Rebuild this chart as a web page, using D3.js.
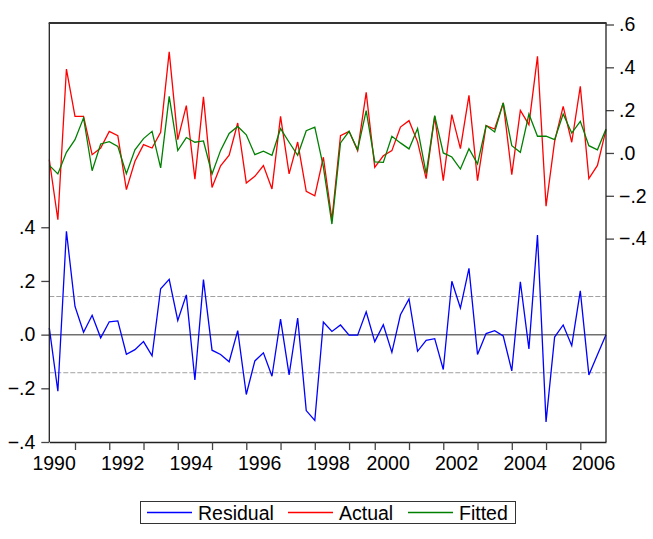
<!DOCTYPE html>
<html lang="en">
  <head>
    <meta charset="UTF-8" />
    <script src="https://d3js.org/d3.v7.min.js"></script>
    <title>Residual / Actual / Fitted</title>
    <style>
      body { margin: 0; background: #fff; }
      text { font-family: "Liberation Sans", Arial, sans-serif; }
    </style>
  </head>

  <body>
    <script>
      // quarterly observations, 1990 has 3 and 1999 has 3 (dated sample has a gap)
      const years = d3.range(1990, 2007);
      const obsPerYear = [3, 4, 4, 4, 4, 4, 4, 4, 4, 3, 4, 4, 4, 4, 4, 4, 4];

      const residual = [0.025, -0.211, 0.385, 0.105, 0.009, 0.072, -0.012, 0.048, 0.051, -0.073,
        -0.056, -0.026, -0.079, 0.171, 0.206, 0.053, 0.148, -0.169, 0.205, -0.058,
        -0.074, -0.101, 0.015, -0.223, -0.098, -0.068, -0.155, 0.058, -0.150, 0.062,
        -0.283, -0.320, 0.047, 0.012, 0.036, -0.002, -0.002, 0.085, -0.026, 0.037,
        -0.066, 0.074, 0.133, -0.062, -0.021, -0.015, -0.130, 0.199, 0.099, 0.247,
        -0.074, 0.004, 0.015, -0.005, -0.135, 0.197, -0.053, 0.371, -0.325, -0.009,
        0.036, -0.041, 0.163, -0.150, -0.075, 0.000];

      const actual = [-0.031, -0.312, 0.392, 0.171, 0.171, -0.008, 0.023, 0.101, 0.081, -0.171,
        -0.039, 0.039, 0.023, 0.096, 0.472, 0.062, 0.221, -0.122, 0.262, -0.161,
        -0.060, -0.010, 0.140, -0.140, -0.109, -0.059, -0.168, 0.171, -0.098, 0.051,
        -0.179, -0.200, -0.020, -0.312, 0.081, 0.101, 0.011, 0.283, -0.067, -0.013,
        0.011, 0.121, 0.151, 0.052, -0.120, 0.171, -0.129, 0.179, 0.020, 0.269,
        -0.129, 0.128, 0.112, 0.234, -0.101, 0.199, 0.132, 0.451, -0.249, 0.054,
        0.218, 0.050, 0.311, -0.120, -0.058, 0.109];

      const fitted = [-0.058, -0.098, 0.003, 0.062, 0.164, -0.083, 0.042, 0.053, 0.031, -0.097,
        0.015, 0.067, 0.101, -0.070, 0.264, 0.011, 0.072, 0.050, 0.056, -0.098,
        0.012, 0.091, 0.124, 0.085, -0.008, 0.008, -0.011, 0.114, 0.050, -0.011,
        0.104, 0.121, -0.065, -0.332, 0.047, 0.101, 0.015, 0.198, -0.042, -0.044,
        0.078, 0.047, 0.019, 0.114, -0.097, 0.174, 0.000, -0.019, -0.075, 0.020,
        -0.051, 0.128, 0.098, 0.234, 0.034, 0.003, 0.182, 0.078, 0.078, 0.062,
        0.182, 0.093, 0.148, 0.034, 0.015, 0.112];

      const leftTicks = [-0.4, -0.2, 0, 0.2, 0.4];
      const rightTicks = [-0.4, -0.2, 0, 0.2, 0.4, 0.6];
      const seBand = 0.142;

      const series = [
        { name: "Residual", values: residual, color: "#0000ff", axis: "left" },
        { name: "Actual", values: actual, color: "#ff0000", axis: "right" },
        { name: "Fitted", values: fitted, color: "#008000", axis: "right" },
      ];

      const W = 653, H = 539;
      const x0 = 49.3, x1 = 606, yTop = 23, yBot = 442;
      const fs = 19.5;

      const svg = d3.select("body").append("svg")
        .attr("width", W).attr("height", H);

      const x = d3.scaleLinear().domain([0, residual.length - 1]).range([x0, x1]);
      const yL = d3.scaleLinear().domain([-0.4, 1.161]).range([yBot, yTop]);
      const yR = d3.scaleLinear().domain([-1.35, 0.6]).range([yBot, 24.5]);

      // year start positions (obs index)
      let cum = 0;
      const yearInfo = years.map((y, i) => {
        const start = cum;
        cum += obsPerYear[i];
        return { year: y, start: start, end: cum };
      });

      const fmt = (d) => {
        if (d === 0) return ".0";
        return d3.format(".1f")(d).replace("0.", ".");
      };

      // residual reference lines
      svg.selectAll("line.band")
        .data([seBand, -seBand])
        .join("line")
        .attr("class", "band")
        .attr("x1", x0).attr("x2", x1)
        .attr("y1", (d) => yL(d)).attr("y2", (d) => yL(d))
        .attr("stroke", "#a0a0a0")
        .attr("stroke-width", 1)
        .attr("stroke-dasharray", "5,2");

      svg.append("line")
        .attr("x1", x0).attr("x2", x1)
        .attr("y1", yL(0)).attr("y2", yL(0))
        .attr("stroke", "#707070")
        .attr("stroke-width", 1.5);

      // series
      series.forEach((s) => {
        const yy = s.axis === "left" ? yL : yR;
        const line = d3.line().x((d, i) => x(i)).y((d) => yy(d));
        svg.append("path")
          .datum(s.values)
          .attr("d", line)
          .attr("fill", "none")
          .attr("stroke", s.color)
          .attr("stroke-width", 1.3)
          .attr("stroke-linejoin", "miter");
      });

      // axes
      const gL = svg.append("g").attr("transform", `translate(${x0},0)`)
        .call(d3.axisLeft(yL).tickValues(leftTicks).tickFormat(fmt).tickSize(8).tickPadding(6));
      const gR = svg.append("g").attr("transform", `translate(${x1},0)`)
        .call(d3.axisRight(yR).tickValues(rightTicks).tickFormat(fmt).tickSize(8).tickPadding(5));

      const tickYears = yearInfo.filter((d) => d.start > 0);
      const gB = svg.append("g").attr("transform", `translate(0,${yBot})`)
        .call(d3.axisBottom(x).tickValues(tickYears.map((d) => d.start)).tickFormat("").tickSize(8).tickSizeOuter(0));

      const labelYears = yearInfo.filter((d) => d.year % 2 === 0);
      const gLab = svg.append("g").attr("transform", `translate(0,${yBot})`)
        .call(d3.axisBottom(x).tickValues(labelYears.map((d) => d.end - 2.5))
          .tickFormat((d, i) => labelYears[i].year).tickSize(0).tickPadding(14));
      gLab.select(".domain").remove();

      [gL, gR].forEach((g) => g.select(".domain").remove());
      [gL, gR, gB, gLab].forEach((g) => {
        g.selectAll("text").attr("font-size", fs).attr("fill", "#000")
          .style("font-family", '"Liberation Sans", Arial, sans-serif');
        g.selectAll(".tick line").attr("stroke", "#444").attr("stroke-width", 1.3);
      });
      gB.select(".domain").attr("stroke", "#222").attr("stroke-width", 1.3);

      // frame
      svg.append("line").attr("x1", x0).attr("x2", x0).attr("y1", yTop).attr("y2", yBot)
        .attr("stroke", "#222").attr("stroke-width", 1.3);
      svg.append("line").attr("x1", x1).attr("x2", x1).attr("y1", yTop).attr("y2", yBot)
        .attr("stroke", "#222").attr("stroke-width", 1.3);
      svg.append("line").attr("x1", x0 - 0.6).attr("x2", x1 + 0.6).attr("y1", yTop).attr("y2", yTop)
        .attr("stroke", "#333").attr("stroke-width", 2.2);

      // legend
      const lg = svg.append("g");
      lg.append("rect")
        .attr("x", 140.5).attr("y", 501.5).attr("width", 375).attr("height", 22)
        .attr("fill", "#fff").attr("stroke", "#333").attr("stroke-width", 1);
      const legX = [147, 288, 408];
      series.forEach((s, i) => {
        lg.append("line")
          .attr("x1", legX[i]).attr("x2", legX[i] + 45)
          .attr("y1", 512.5).attr("y2", 512.5)
          .attr("stroke", s.color).attr("stroke-width", 1.3);
        lg.append("text")
          .attr("x", legX[i] + 51).attr("y", 519.5)
          .attr("font-size", fs).attr("fill", "#000")
          .text(s.name);
      });
    </script>
  </body>
</html>
